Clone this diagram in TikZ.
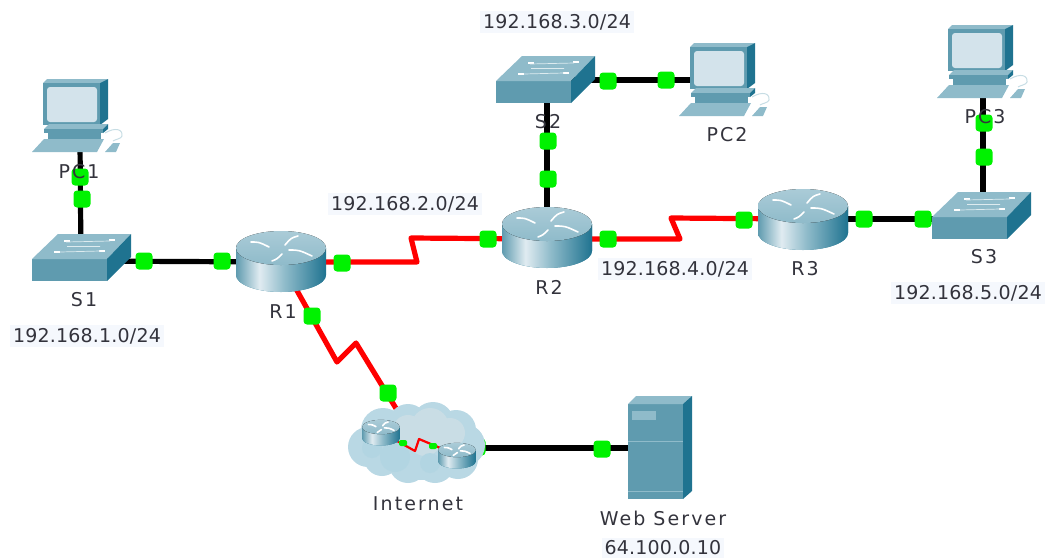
\documentclass[tikz,border=0pt]{standalone}
\usepackage{fontspec}
\setmainfont{DejaVu Sans}
\newfontfamily\lblfam[LetterSpace=11]{DejaVu Sans}
\newfontfamily\ipfam[LetterSpace=1]{DejaVu Sans}
\definecolor{tealmid}{HTML}{5F9BAF}
\definecolor{tealdark}{HTML}{1F7390}
\definecolor{teallight}{HTML}{8FBBCA}
\definecolor{screenc}{HTML}{D3E3EB}
\definecolor{led}{HTML}{00F200}
\definecolor{linkred}{HTML}{FF0000}
\definecolor{txt}{HTML}{33333C}
\definecolor{ipbg}{HTML}{F5F8FD}
\definecolor{cloudb}{HTML}{B9D8E4}
\definecolor{cloudp}{HTML}{C9DDE5}
\definecolor{cloudq}{HTML}{B2D5E2}
\pgfdeclarehorizontalshading{routerbody}{100bp}{color(0bp)=(tealmid);color(25bp)=(tealmid);color(38bp)=(screenc!70!white);color(52bp)=(teallight);color(75bp)=(tealdark);color(100bp)=(tealdark)}
\pgfdeclareverticalshading{routertop}{100bp}{color(0bp)=(teallight);color(25bp)=(teallight);color(75bp)=(teallight!60!screenc);color(100bp)=(teallight!60!screenc)}
\tikzset{
  x=1pt,y=-1pt,
  devbox/.style={inner sep=0pt,outer sep=0pt},
  cable/.style={draw=black,line width=5.2pt},
  serial/.style={draw=linkred,line width=5.2pt,line join=round},
  lamp/.style={fill=led,rounded corners=3.5pt,minimum width=17pt,minimum height=17pt,inner sep=0pt},
  smalllamp/.style={fill=led,rounded corners=2pt,minimum width=8pt,minimum height=6pt,inner sep=0pt},
  lbl/.style={text=txt,font=\lblfam\fontsize{19}{21}\selectfont,inner sep=0pt},
  iplbl/.style={text=txt,fill=ipbg,font=\ipfam\fontsize{19}{21}\selectfont,inner sep=3pt},
  routericon/.pic={
    \fill[tealdark,shading=routerbody] (-45,0) -- (-45,27)
      .. controls (-45,36.4) and (-24.8,44) .. (0,44)
      .. controls (24.8,44) and (45,36.4) .. (45,27) -- (45,0) -- cycle;
    \fill[shading=routertop] (0,0) ellipse [x radius=45pt,y radius=17pt];
    \draw[white,line width=1.6pt,line cap=round] (-30,-6) .. controls (-22,-6) .. (-12,-1);
    \draw[white,line width=1.6pt,line cap=round] (17,-12) .. controls (10,-10) .. (4,-3);
    \draw[white,line width=1.6pt,line cap=round] (8,2) .. controls (18,2) .. (31,8);
    \draw[white,line width=1.6pt,line cap=round] (-9,13) .. controls (-4,11) .. (1,6);
  },
  switchicon/.pic={
    \fill[tealmid] (0,25) -- (75,25) -- (75,47) -- (0,47) -- cycle;
    \fill[teallight] (0,25) -- (26,0) -- (99,0) -- (75,25) -- cycle;
    \fill[tealdark] (75,25) -- (99,0) -- (99,23) -- (75,47) -- cycle;
    \foreach \p/\q in {35/7,80/6,25/18,70/17}
      \fill[white] (\p-3,\q-1) rectangle (\p+3,\q+1);
    \draw[white!70!teallight,line width=.7pt] (34,8) -- (78,7) (28,18) -- (68,17) (35,12.5) -- (68,12.5);
  },
  pcicon/.pic={
    \fill[teallight] (0,4) -- (4,0) -- (65,0) -- (57,4) -- cycle;
    \fill[tealmid] (0,4) rectangle (57,46);
    \fill[tealdark] (57,4) -- (65,0) -- (65,40) -- (57,46) -- cycle;
    \fill[screenc,rounded corners=3pt] (4,8) rectangle (54,43);
    \fill[teallight] (1,50) -- (60,50) -- (65,45) -- (6,45) -- cycle;
    \fill[tealmid] (1,50) -- (60,50) -- (60,54) -- (1,54) -- cycle;
    \fill[tealdark] (60,50) -- (65,45) -- (65,50) -- (60,54) -- cycle;
    \fill[tealmid] (5,54) rectangle (58,60);
    \fill[teallight] (-11,73) -- (1,60) -- (61,60) -- (54,73) -- cycle;
    \draw[teallight!50!white,line width=1pt] (62,54) .. controls (72,48) and (80,50) .. (79,57) .. controls (78,60) and (73,60) .. (70,62);
    \fill[teallight] (62,73) -- (70,64) -- (77,64) -- (73,73) -- cycle;
  },
}
\begin{document}
\begin{tikzpicture}
\useasboundingbox (0,0) rectangle (1047,558);
% device anchors
\node[devbox,minimum width=75pt,minimum height=16pt] (pc1) at (80,143) {};
\node[devbox,minimum width=75pt,minimum height=16pt] (pc2) at (735,80) {};
\node[devbox,minimum width=75pt,minimum height=16pt] (pc3) at (983,92) {};
\node[devbox,minimum width=99pt,minimum height=6pt] (s1) at (81,261) {};
\node[devbox,minimum width=99pt,minimum height=6pt] (s2) at (547,80) {};
\node[devbox,minimum width=99pt,minimum height=6pt] (s3) at (983,219) {};
\node[devbox,minimum width=90pt,minimum height=10pt] (r1) at (281,262) {};
\node[devbox,minimum width=90pt,minimum height=10pt] (r2) at (547,239) {};
\node[devbox,minimum width=90pt,minimum height=10pt] (r3) at (803,219) {};
\node[devbox,minimum width=50pt,minimum height=4pt] (srv) at (655,448) {};
\node[devbox,minimum width=76pt,minimum height=50pt] (cld) at (418,448) {};
\node[devbox,minimum size=2pt] (isp1) at (381,432) {};
\node[devbox,minimum size=2pt] (isp2) at (457,455) {};
\coordinate (z1) at (417,262);
\coordinate (z2) at (411,238);
\coordinate (z3) at (680,239);
\coordinate (z4) at (671,218);
\coordinate (z5) at (337,362);
\coordinate (z6) at (356,343);
\coordinate (z7) at (397,410);
\coordinate (z8) at (415,451);
\coordinate (z9) at (419,439);
% connectors
\draw[cable] (pc1.center) -- (s1.center);
\draw[cable] (s1.center) -- (r1.center);
\draw[cable] (s2.center) -- (r2.center);
\draw[cable] (s2.center) -- (pc2.center);
\draw[cable] (r3.center) -- (s3.center);
\draw[cable] (pc3.center) -- (s3.center);
\draw[cable] (cld.center) -- (srv.center);
\draw[serial] (r1.center) -- (z1) -- (z2) -- (r2.center);
\draw[serial] (r2.center) -- (z3) -- (z4) -- (r3.center);
\draw[serial] (r1.center) -- (z5) -- (z6) -- (z7);
\node[lamp] (lcld) at (477,447) {};
% devices
\path (43,79) pic {pcicon};
\path (690,43) pic {pcicon};
\path (948,25) pic {pcicon};
\path (32,234) pic {switchicon};
\path (496,56) pic {switchicon};
\path (932,192) pic {switchicon};
\path (281,248) pic {routericon};
\path (547,224) pic {routericon};
\path (803,206) pic {routericon};
% server
\fill[tealmid] (628,404) rectangle (683,499);
\fill[teallight] (628,404) -- (636,396) -- (692,396) -- (683,404) -- cycle;
\fill[tealdark] (683,404) -- (692,396) -- (692,491) -- (683,499) -- cycle;
\fill[teallight] (632,411) rectangle (656,420);
\draw[teallight,line width=.7pt] (628,441) -- (683,441) (628,491) -- (683,491);
% cloud
\fill[cloudb] (368,447) circle [radius=20pt] (383,430) circle [radius=22pt] (408,424) circle [radius=20pt]
  (433,423) circle [radius=21pt] (456,430) circle [radius=20pt] (464,445) circle [radius=21pt]
  (458,459) circle [radius=20pt] (435,463) circle [radius=20pt] (408,464) circle [radius=19pt]
  (382,458) circle [radius=18pt] (420,446) circle [radius=34pt];
\fill[cloudp] (430,427) circle [radius=19pt] (450,433) circle [radius=15pt] (408,430) circle [radius=15pt] (425,440) circle [radius=16pt];
\fill[cloudq] (395,457) circle [radius=15pt] (372,448) circle [radius=10pt] (430,463) circle [radius=10pt];
\draw[linkred,line width=2.2pt,line join=round] (isp1.center) -- (z8) -- (z9) -- (isp2.center);
\node[smalllamp] (l13) at (403,443) {};
\node[smalllamp] (l14) at (433,446) {};
\path (381,427) pic[scale=.42] {routericon};
\path (457,450) pic[scale=.42] {routericon};
% link lights
\foreach \n/\x/\y in {a/80/177,b/82/199,c/144/261,d/222/261,e/342/263,f/488/239,g/548/141,h/548/179,
  i/608/81,j/666/80,k/608/239,l/744/220,m/864/219,n/923/219,o/984/123,p/984/157,q/312/316,r/388/393,s/602/449}
  \node[lamp] (lamp\n) at (\x,\y) {};
% labels
\node[lbl] (tpc1) at (79,172) {PC1};
\node[lbl] (tpc2) at (727,135) {PC2};
\node[lbl] (tpc3) at (985,117) {PC3};
\node[lbl] (ts1) at (84,300) {S1};
\node[lbl] (ts2) at (548,122) {S2};
\node[lbl] (ts3) at (984,257) {S3};
\node[lbl] (tr1) at (283,312) {R1};
\node[lbl] (tr2) at (549,287) {R2};
\node[lbl] (tr3) at (805,269) {R3};
\node[lbl] (tnet) at (418,504) {Internet};
\node[lbl] (tsrv) at (663,518) {Web Server};
\node[iplbl] (tip) at (663,548) {64.100.0.10};
\node[iplbl] (n1) at (87,336) {192.168.1.0/24};
\node[iplbl] (n2) at (405,204) {192.168.2.0/24};
\node[iplbl] (n3) at (557,22) {192.168.3.0/24};
\node[iplbl] (n4) at (675,269) {192.168.4.0/24};
\node[iplbl] (n5) at (968,293) {192.168.5.0/24};
\end{tikzpicture}
\end{document}
